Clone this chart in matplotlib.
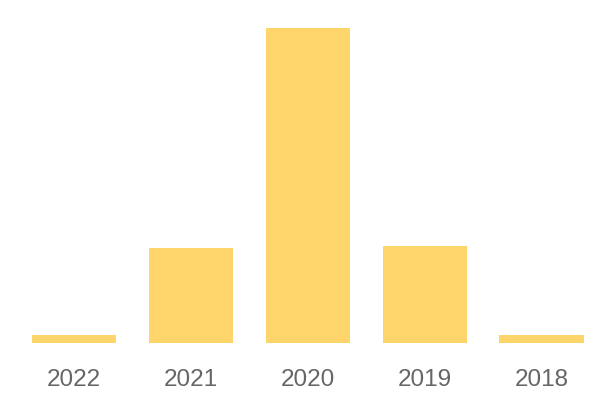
import matplotlib.pyplot as plt

# data
years = ['2022', '2021', '2020', '2019', '2018']
values = [2.5, 30.2, 100, 30.8, 2.5]

plt.rcParams['font.family'] = ['Liberation Sans', 'DejaVu Sans']

fig = plt.figure(figsize=(6, 4), dpi=100)
ax = fig.add_axes([15.5 / 600, 57 / 400, 584.5 / 600, 315 / 400])

ax.bar(range(len(years)), values, width=0.72, color='#FED56A')
ax.set_xlim(-0.5, 4.5)
ax.set_ylim(0, 100)

ax.set_xticks(range(len(years)))
ax.set_xticklabels(years, color='#666666', fontsize=17.5)
ax.tick_params(axis='x', length=0, pad=19)
ax.set_yticks([])
for s in ax.spines.values():
    s.set_visible(False)

fig.savefig('out.png', dpi=100)
